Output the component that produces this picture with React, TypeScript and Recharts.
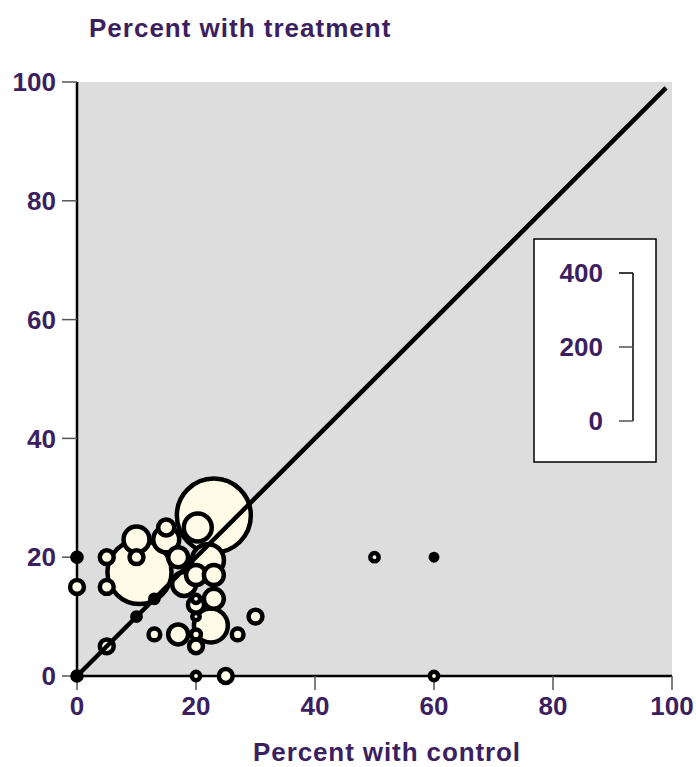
import React from 'react';
import { ScatterChart, Scatter, XAxis, YAxis, ZAxis, CartesianGrid } from 'recharts';

// Bubbles (open, cream-filled), drawn largest first
const bubbleControl = [23, 10.5, 22.5, 22, 20.3, 15, 10, 18, 17, 20, 23, 23, 17, 20, 15, 0, 5, 5, 10, 5, 30, 20, 25, 13, 27, 20, 20, 20, 50, 60, 20];
const bubbleTreatment = [27, 17.5, 8.5, 19.5, 25, 23, 23, 15.5, 20, 17, 17, 13, 7, 12, 25, 15, 20, 15, 20, 5, 10, 5, 0, 7, 7, 7, 0, 13, 20, 0, 10];
const bubbleSize = [400, 300, 84, 75, 57, 49, 49, 42, 29, 29, 29, 29, 29, 19, 19, 14, 14, 14, 14, 14, 14, 14, 14, 10, 10, 7, 5, 5, 5, 5, 4];

// Solid black dots
const dotControl = [0, 0, 10, 13, 60];
const dotTreatment = [20, 0, 10, 13, 20];
const dotSize = [6, 6, 5, 5, 3];

// Line of equality
const diagControl = [0, 99];
const diagTreatment = [0, 99];

const axisTicks = [0, 20, 40, 60, 80, 100];
const legendTicks = [0, 200, 400];

const bubbles = bubbleControl.map((x, i) => ({ x, y: bubbleTreatment[i], n: bubbleSize[i] }));
const dots = dotControl.map((x, i) => ({ x, y: dotTreatment[i], n: dotSize[i] }));
const diag = diagControl.map((x, i) => ({ x, y: diagTreatment[i], n: 1 }));

const PURPLE = '#3c1f60';
const FONT = '"Liberation Sans", Arial, Helvetica, sans-serif';
const tickStyle = { fill: PURPLE, fontSize: 26, fontWeight: 700, fontFamily: FONT };

const Empty = () => <g />;

const makeShape = (fill: string) => (p: any) => {
  const r = p.width != null ? p.width / 2 : Math.sqrt(Math.max(p.size || 0, 0) / Math.PI);
  return <circle cx={p.cx} cy={p.cy} r={r} fill={fill} stroke="#000" strokeWidth={4.5} />;
};
const BubbleShape = makeShape('#fffbe7');
const DotShape = makeShape('#000');

function LegendBox() {
  const x0 = 534, y0 = 239, w = 122, h = 223;
  const topY = 273, botY = 421, lineX = 633;
  const pos = (v: number) => botY - (v / 400) * (botY - topY);
  return (
    <g>
      <rect x={x0} y={y0} width={w} height={h} fill="#ffffff" stroke="#000" strokeWidth={1.5} />
      <line x1={lineX} y1={topY} x2={lineX} y2={botY} stroke="#000" strokeWidth={1.5} />
      {legendTicks.map((v) => (
        <g key={v}>
          <line x1={619} y1={pos(v)} x2={lineX} y2={pos(v)} stroke={v === 400 ? '#000' : '#555'} strokeWidth={1.5} />
          <text x={603} y={pos(v)} textAnchor="end" dominantBaseline="central" style={tickStyle}>
            {v}
          </text>
        </g>
      ))}
    </g>
  );
}

export default function App() {
  return (
    <div style={{ position: 'absolute', left: 0, top: 0 }}>
      <ScatterChart width={696} height={767} margin={{ top: 82, right: 24, bottom: 41, left: 7 }}>
        <CartesianGrid fill="#dddddd" horizontal={false} vertical={false} />
        <XAxis
          type="number"
          dataKey="x"
          domain={[0, 100]}
          ticks={axisTicks}
          interval={0}
          height={50}
          tickSize={14}
          tickMargin={7}
          tick={tickStyle}
          tickLine={{ stroke: '#555', strokeWidth: 1.5 }}
          axisLine={{ stroke: '#000', strokeWidth: 2.5 }}
        />
        <YAxis
          type="number"
          dataKey="y"
          domain={[0, 100]}
          ticks={axisTicks}
          interval={0}
          width={70}
          tickSize={15}
          tickMargin={6}
          tick={tickStyle}
          tickLine={{ stroke: '#555', strokeWidth: 1.5 }}
          axisLine={{ stroke: '#000', strokeWidth: 2.5 }}
        />
        <ZAxis type="number" dataKey="n" domain={[0, 400]} range={[0, 4301]} />
        <Scatter data={bubbles} shape={BubbleShape} isAnimationActive={false} />
        <Scatter data={dots} shape={DotShape} isAnimationActive={false} />
        <Scatter
          data={diag}
          line={{ stroke: '#000', strokeWidth: 4.5 }}
          shape={Empty}
          isAnimationActive={false}
        />
        <LegendBox />
        <text x={89} y={37} style={{ fill: PURPLE, fontSize: 26, fontWeight: 700, fontFamily: FONT, letterSpacing: 1 }}>
          Percent with treatment
        </text>
        <text x={387} y={761} textAnchor="middle" style={{ fill: PURPLE, fontSize: 26, fontWeight: 700, fontFamily: FONT, letterSpacing: 0.9 }}>
          Percent with control
        </text>
      </ScatterChart>
    </div>
  );
}
